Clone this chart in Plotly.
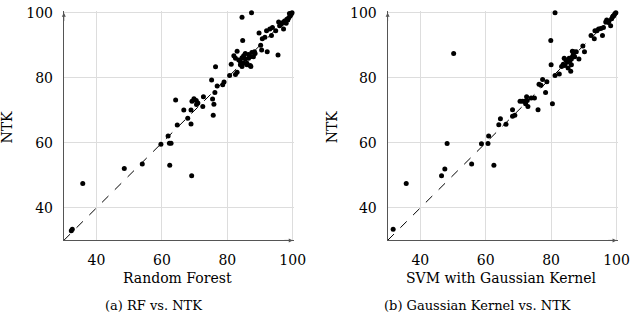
import plotly.graph_objects as go

# Panel (a): Random Forest vs NTK
rf_x = [32.3, 32.6, 35.8, 48.5, 54.0, 59.7, 62.4, 69.1, 61.9, 62.3, 62.8, 64.2, 64.7, 66.7, 67.9, 68.9, 68.9,
        69.2, 69.8, 70.5, 71.0, 70.6, 72.7, 72.5, 75.2, 75.5, 75.9, 75.7, 76.2, 76.4, 76.9, 78.6, 79.0, 80.7,
        81.2, 82.5, 83.0, 82.0, 83.0, 84.5, 87.4, 84.7,
        82.5, 83.5, 84.0, 84.5, 85.0, 85.5, 86.0, 86.5, 87.0, 84.0, 85.0, 86.0, 87.0, 87.2, 88.0, 88.5, 86.5,
        85.5, 84.5, 87.5, 88.3,
        89.7, 90.2, 90.5, 90.7, 91.5, 92.2, 92.0, 93.0, 93.5, 93.8, 94.8, 95.5, 95.7, 96.5, 97.2, 97.5, 97.0,
        98.0, 98.5, 98.8, 99.2, 99.5, 99.8, 99.0, 98.2, 96.0]
rf_y = [33.0, 33.4, 47.5, 52.1, 53.5, 59.6, 53.1, 49.9, 62.1, 59.9, 59.9, 73.2, 65.5, 70.1, 67.6, 70.1, 65.8,
        72.8, 73.6, 73.0, 72.3, 71.8, 74.2, 71.2, 79.3, 73.5, 71.9, 68.5, 75.5, 83.4, 77.5, 77.9, 78.7, 80.7,
        84.2, 81.0, 81.7, 86.8, 88.2, 98.6, 100.0, 91.5,
        86.0, 85.5, 85.0, 86.2, 86.8, 85.8, 84.5, 86.0, 86.5, 84.0, 84.5, 84.0, 83.8, 83.5, 86.5, 87.5, 87.2,
        87.5, 83.5, 87.8, 88.0,
        93.8, 90.0, 88.6, 92.0, 92.5, 88.0, 94.5, 95.0, 93.0, 95.5, 94.5, 87.0, 97.2, 96.5, 95.0, 97.5, 97.0,
        96.8, 97.8, 98.5, 99.0, 99.5, 100.0, 99.8, 98.0, 96.0]

# Panel (b): SVM with Gaussian Kernel vs NTK
svm_x = [31.7, 35.7, 46.5, 47.5, 55.7, 62.5, 48.2, 58.7, 60.7, 60.9, 50.2, 64.0, 64.5, 66.2, 68.2, 68.2, 68.9,
         70.5, 71.2, 71.9, 72.5, 72.7, 72.2, 72.9, 73.9, 74.9, 76.0, 76.3, 76.9, 77.4, 78.3, 78.7, 79.9, 80.0,
         80.4, 81.2, 81.2, 82.5,
         83.2, 83.7, 84.2, 84.5, 85.0, 85.5, 85.7, 86.2, 86.5, 86.8, 87.2, 86.5, 87.0, 87.7, 86.2, 86.0, 85.2,
         84.0,
         88.5, 89.7, 90.2, 92.2, 93.2, 93.4, 94.0, 94.5, 95.2, 95.7, 96.0, 96.7, 97.0, 97.5, 98.2, 98.5, 98.8,
         99.2, 99.5, 99.8, 97.7, 99.0]
svm_y = [33.4, 47.5, 49.9, 52.0, 53.5, 53.1, 59.8, 59.7, 59.8, 62.1, 87.5, 65.6, 67.4, 65.7, 70.2, 68.2, 68.5,
         72.8, 72.8, 72.8, 74.2, 73.0, 72.0, 71.2, 73.8, 73.8, 70.2, 78.0, 77.7, 79.5, 75.5, 78.8, 91.5, 84.0,
         72.0, 80.7, 100.0, 81.2,
         83.5, 84.2, 83.8, 85.5, 84.8, 86.0, 85.2, 85.8, 86.5, 87.2, 86.5, 88.2, 88.0, 88.0, 84.0, 82.0, 83.0,
         86.0,
         85.8, 89.8, 88.0, 93.0, 92.0, 94.5, 94.5, 95.0, 95.2, 93.0, 95.5, 97.2, 97.8, 97.0, 96.0, 98.2, 98.8,
         99.2, 99.7, 100.0, 97.5, 99.0]

diag = [30, 100]
tick_vals = [40, 60, 80, 100]
x_titles = ["Random Forest", "SVM with Gaussian Kernel"]
captions = ["(a) RF vs. NTK", "(b) Gaussian Kernel vs. NTK"]
y_title = "NTK"

FONT = "DejaVu Serif"
fig = go.Figure()

panels = [(rf_x, rf_y, "x", "y"), (svm_x, svm_y, "x2", "y2")]
for px_, py_, xa, ya in panels:
    fig.add_trace(go.Scatter(x=diag, y=diag, mode="lines", xaxis=xa, yaxis=ya,
                             line=dict(color="black", width=1, dash="dash"), showlegend=False,
                             hoverinfo="skip", cliponaxis=False))
    fig.add_trace(go.Scatter(x=px_, y=py_, mode="markers", xaxis=xa, yaxis=ya, cliponaxis=False,
                             marker=dict(color="black", size=5), showlegend=False))

RMAX = 100.5
xdoms = [[65 / 640, (65 + 70.5 * 3.333) / 640], [395 / 640, (395 + 70.5 * 3.333) / 640]]
ydom = [1 - 239 / 313, 1 - (239 - 70.5 * 3.315) / 313]
axis_common = dict(range=[30, RMAX], tickvals=tick_vals, showgrid=True, gridcolor="#dddddd", gridwidth=1,
                   zeroline=False, showline=True, linecolor="#555555", linewidth=1,
                   tickfont=dict(family=FONT, size=14, color="black"), ticks="", ticklabelstandoff=7,
                   ticklabeloverflow="allow")

fig.update_layout(
    width=640, height=313, margin=dict(l=0, r=0, t=0, b=0),
    paper_bgcolor="white", plot_bgcolor="white", showlegend=False,
    xaxis=dict(domain=xdoms[0], anchor="y", **axis_common),
    yaxis=dict(domain=ydom, anchor="x", **axis_common),
    xaxis2=dict(domain=xdoms[1], anchor="y2", **axis_common),
    yaxis2=dict(domain=ydom, anchor="x2", **axis_common),
)

anns = []
for i, (xa, ya) in enumerate([("x", "y"), ("x2", "y2")]):
    # arrows at axis ends
    anns.append(dict(x=100, y=30, ax=97, ay=30, xref=xa, yref=ya, axref=xa, ayref=ya, showarrow=True,
                     arrowhead=2, arrowsize=0.8, arrowwidth=1, arrowcolor="#555555", text=""))
    anns.append(dict(x=30, y=100, ax=30, ay=97, xref=xa, yref=ya, axref=xa, ayref=ya, showarrow=True,
                     arrowhead=2, arrowsize=0.8, arrowwidth=1, arrowcolor="#555555", text=""))
    cx = [181 / 640, 511 / 640][i]
    anns.append(dict(x=cx, y=1 - 277 / 313, xref="paper", yref="paper", text=x_titles[i], showarrow=False,
                     font=dict(family=FONT, size=14, color="black"), xanchor="center", yanchor="middle"))
    anns.append(dict(x=[156 / 640, 487 / 640][i], y=1 - 305 / 313, xref="paper", yref="paper",
                     text=captions[i], showarrow=False,
                     font=dict(family=FONT, size=13, color="black"), xanchor="center", yanchor="middle"))
    anns.append(dict(x=[7 / 640, 338 / 640][i], y=1 - 123 / 313, xref="paper", yref="paper", text=y_title,
                     showarrow=False, textangle=-90,
                     font=dict(family=FONT, size=14, color="black"), xanchor="center", yanchor="middle"))
fig.update_layout(annotations=anns)

fig.write_html("out.html", config={"displayModeBar": False},
               post_script="document.body.style.margin='0';document.body.style.padding='0';")
